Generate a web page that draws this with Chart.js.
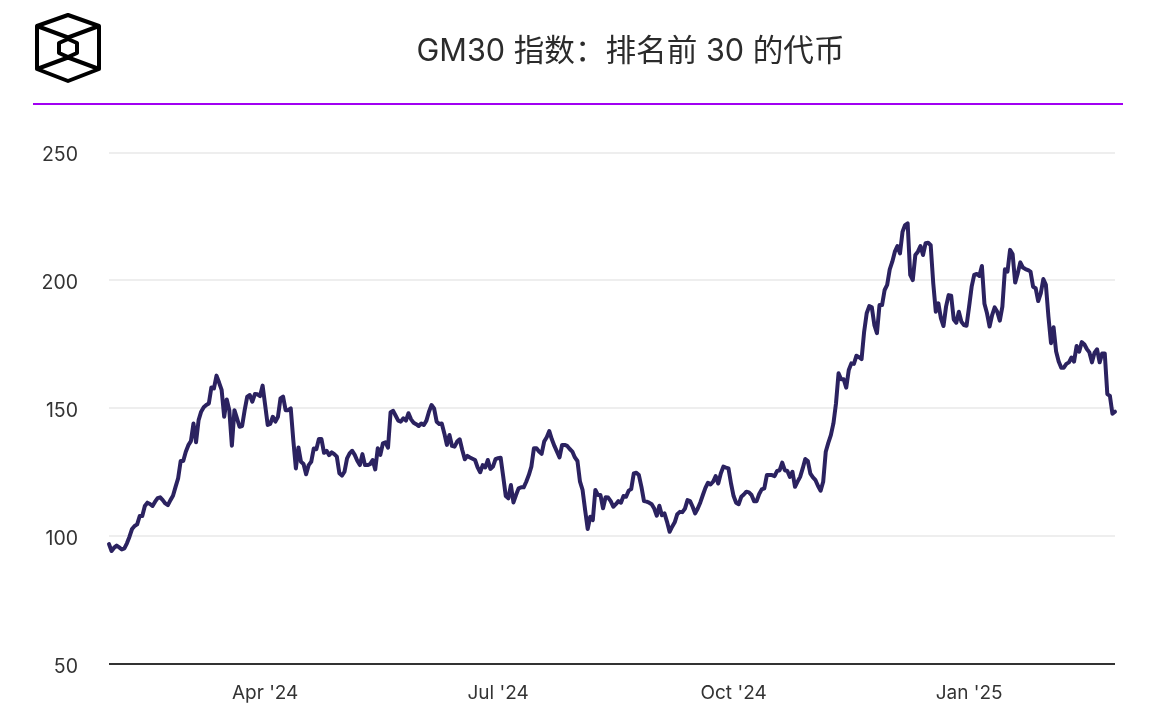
<!DOCTYPE html>
<html lang="zh">
<head>
<meta charset="utf-8">
<title>GM30 指数</title>
<script src="https://cdn.jsdelivr.net/npm/chart.js@4/dist/chart.umd.min.js"></script>
<style>
  html, body { margin: 0; padding: 0; background: #fff; }
  #page { position: relative; width: 1170px; height: 720px; overflow: hidden; }
  #logo { position: absolute; left: 0; top: 0; }
  #heading {
    position: absolute; left: 140px; width: 981px; top: 30px; margin: 0;
    text-align: center; font: 400 30.6px/40px Inter, "Noto Sans CJK SC", sans-serif; color: #2b2b2b;
  }
  #rule { position: absolute; left: 33px; width: 1090px; top: 103px; height: 2px; background: #a100f2; }
  #chart { position: absolute; left: 0; top: 0; }
</style>
</head>
<body>
<div id="page">
  <canvas id="chart" width="1170" height="720"></canvas>
  <svg id="logo" width="140" height="100" fill="none" stroke="#000" stroke-width="4" stroke-linejoin="round">
    <path d="M68 15 L99 26 V69 L68 81 L37 69 V26 Z"/>
    <path d="M37 26 L68 37.5 L99 26 M37 69 L68 57.5 L99 69"/>
    <path d="M68 39 L77 43 V53 L68 57 L59 53 V43 Z"/>
  </svg>
  <h1 id="heading">GM30 指数：排名前 30 的代币</h1>
  <div id="rule"></div>
</div>
<script>
// GM30 读数，每日一个点，从 2024-01-31 开始
const gm30Values = [
  96.8,94.1,95.4,96.2,95.5,94.7,95.1,97.1,99.7,102.7,
  103.9,104.5,107.8,107.8,111.7,113,112.5,111.7,113.4,114.8,
  115.1,114,112.7,112,114,115.7,119.2,122.5,129.3,129.3,
  132.9,135.5,137.1,144,136.6,145.3,148.6,150.3,151.2,151.8,
  158.1,157.7,162.7,160,157.1,146.6,153.4,149.2,135.3,149.2,
  146,142.7,143,149.2,154.5,155.1,152.5,155.5,155.4,154.7,
  158.8,151.2,143.4,143.8,146.6,144.7,146.6,153.8,154.5,149.2,
  149.2,149.9,137.5,126.4,134.6,129,128.1,124.1,127.7,129,
  134.2,133.9,137.9,137.9,132.5,133.3,131.6,132.7,132,131,
  124.5,123.6,125.1,130.3,132.3,133.3,131.7,129.4,127.7,132,
  127.7,127.7,128.1,129.7,126,134.3,131.7,136.2,136.6,134.5,
  148.4,148.9,147,145.1,144.7,146,145.1,148,145.6,144.3,
  143.7,143,144,143.4,145.1,148.6,151.2,149.9,144.7,143.8,
  144,140.1,135.6,139.5,135.2,134.9,136.9,137.8,133.6,130,
  131.3,130.7,130.2,129.7,126.8,124.9,127.7,126.8,129.7,126.2,
  127.1,130,130.4,130.6,123.2,115.6,114.7,119.9,113.1,116,
  118.6,119,119,121.2,123.8,127.1,134.3,134.3,133,132.1,
  136.9,138.6,141,137.8,135.2,133,130.7,135.6,135.6,135.2,
  134,133,130.7,129.3,121.2,118,110.1,102.7,107.5,106.2,
  118,116,116,110.8,115.1,115,113.6,111.4,112.4,113.6,
  113,115.6,115.3,117.7,118.3,124.4,124.7,123.8,119.2,113.6,
  113.4,113,112.4,110.7,107.9,111.8,108.1,108.8,105.5,101.6,
  103.6,105.3,108.5,109.4,109.3,110.7,114,113.6,111.4,108.8,
  110.7,113.1,116,118.8,120.8,120.1,121.2,123.4,120.5,124.4,
  127.1,126.7,126.4,120.5,115.6,113,112.4,115.3,116.2,117.3,
  117,116,113.6,113.6,116.4,118.2,118.6,123.8,123.8,123.8,
  123.4,125.4,125.7,128.7,125.7,125.4,123.1,125.1,119.2,121.2,
  123.1,126.4,130.1,129.3,124.4,122.9,121.8,119.5,117.7,121.2,
  132.9,136.4,139.4,144,151.8,163.6,161.3,161.3,158,164.9,
  167.5,167.3,170.5,169.9,169.2,179.9,187.1,189.9,189.4,182.5,
  179.3,190.3,190.3,196.2,198.2,204.3,207.3,211.2,213.4,210.5,
  219,221.6,222.3,202.1,200.1,209.9,211.2,213.4,209.9,214.5,
  214.7,213.7,198.8,187.7,191,185.1,182.1,189.7,194.2,194,
  184.7,183.4,187.7,183.8,182.5,182.2,189.7,197.5,202.1,202.5,
  201.7,205.6,190.8,187.1,181.9,186.4,189.4,187.7,184.2,189.7,
  204.3,203.4,211.9,210.3,199.1,202.7,207,205,204.4,204,
  203.4,197.5,196.9,191.9,194.9,200.5,198.2,185.8,175.4,181.6,
  172.1,168.2,165.8,165.8,167.3,167.9,169.8,168.2,174.3,172.1,
  175.8,175,173.1,171.8,167.9,171.7,173,167.9,171.4,171.4,
  155.5,154.8,147.8,148.6
];

const yTicks = [50, 100, 150, 200, 250];
const xTickDays = [61, 152, 244, 336];
const xTickLabels = ["Apr '24", "Jul '24", "Oct '24", "Jan '25"];

const dayLabels = gm30Values.map((_, i) => i);
const fontFamily = 'Inter, "Noto Sans", sans-serif';

new Chart(document.getElementById("chart"), {
  type: "line",
  data: {
    labels: dayLabels,
    datasets: [{
      data: gm30Values,
      borderColor: "#2b2260",
      borderWidth: 4,
      borderJoinStyle: "round",
      borderCapStyle: "round",
      pointRadius: 0,
      tension: 0,
      clip: false,
    }],
  },
  options: {
    responsive: false,
    animation: false,
    layout: { padding: { top: 152.5, right: 55, left: 0, bottom: 0 } },
    plugins: { legend: { display: false }, tooltip: { enabled: false } },
    scales: {
      x: {
        type: "category",
        grid: { display: false },
        border: { display: false },
        afterFit: (s) => { s.height = 56.3; },
        ticks: {
          autoSkip: false,
          maxRotation: 0,
          padding: 10,
          color: "#333",
          font: { family: fontFamily, size: 19 },
          callback: (v, i) => {
            const k = xTickDays.indexOf(i);
            return k >= 0 ? xTickLabels[k] : null;
          },
        },
      },
      y: {
        min: yTicks[0],
        max: yTicks[yTicks.length - 1],
        afterFit: (s) => { s.width = 109; },
        afterBuildTicks: (s) => { s.ticks = yTicks.map((value) => ({ value })); },
        border: { display: false },
        grid: {
          drawTicks: false,
          lineWidth: 2,
          color: (ctx) => (ctx.tick && ctx.tick.value === 50 ? "#333" : "#eeeeee"),
        },
        ticks: { padding: 31, labelOffset: 3, color: "#333", font: { family: fontFamily, size: 19.5 } },
      },
    },
  },
});
</script>
</body>
</html>
